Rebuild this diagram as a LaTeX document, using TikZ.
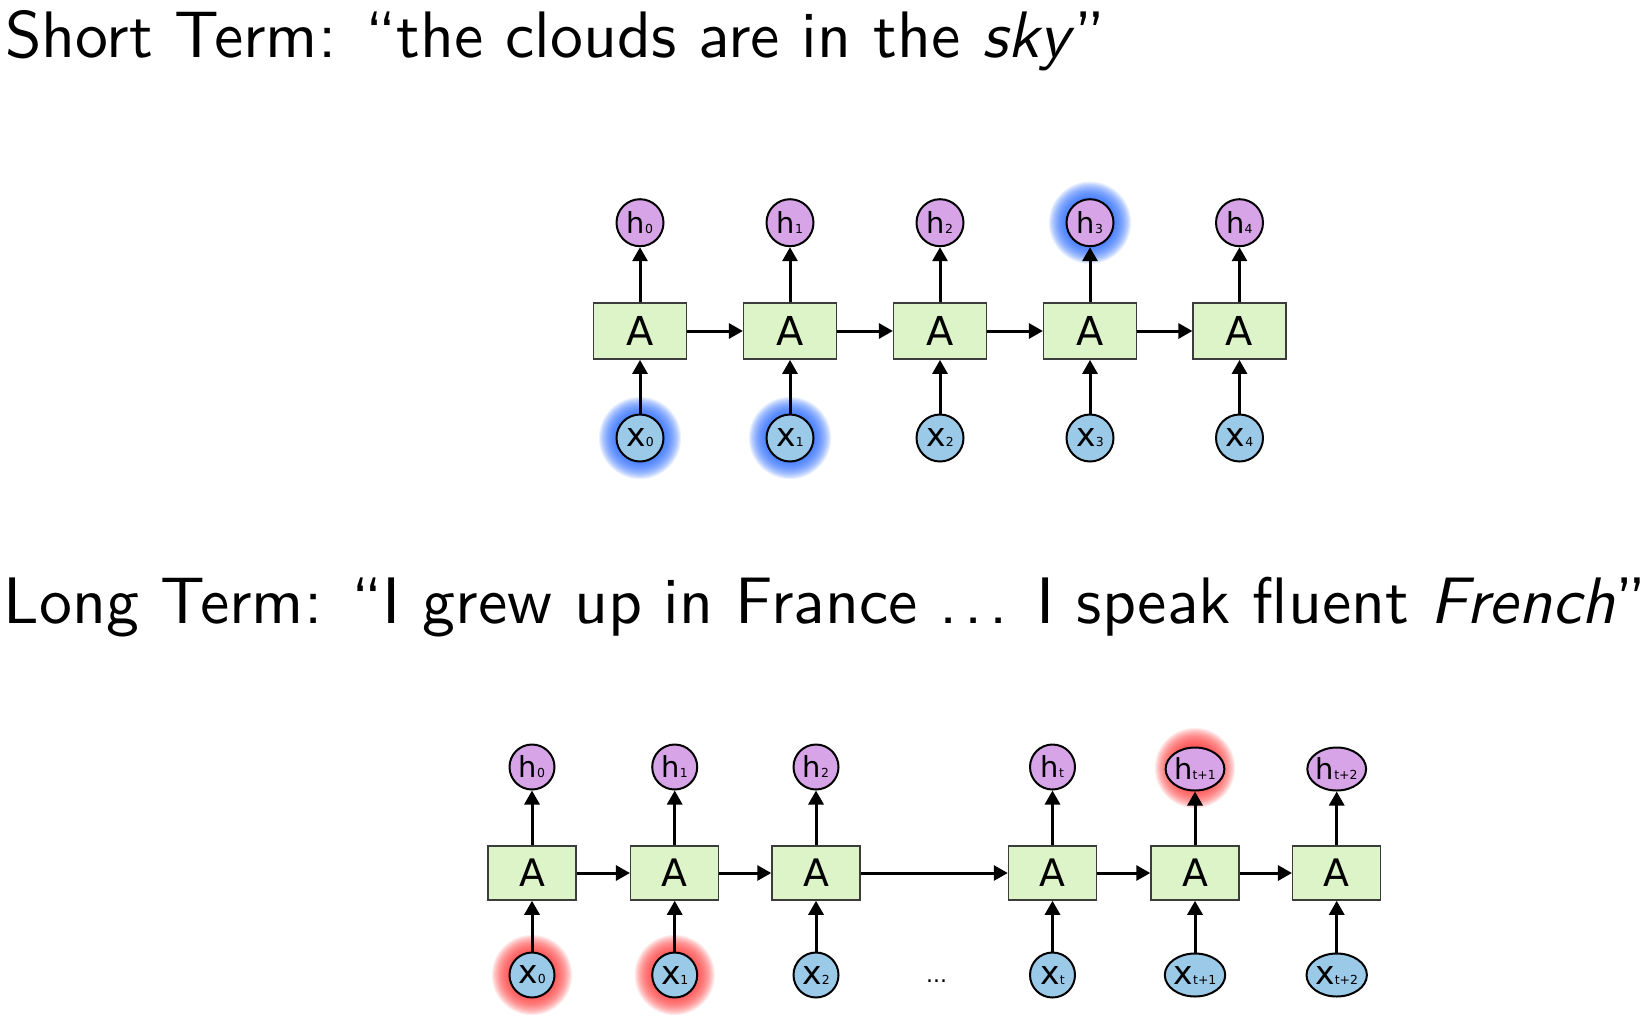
\documentclass[tikz,border=0pt]{standalone}
\usepackage{fontspec}
\newfontfamily\diagfont{DejaVu Sans}
\newfontfamily\headfont{lmsans10-regular.otf}[ItalicFont=lmsans10-oblique.otf,Ligatures=TeX]
\usetikzlibrary{arrows.meta,shapes.geometric}

\definecolor{cellfill}{RGB}{221,244,200}
\definecolor{cellborder}{RGB}{60,60,60}
\definecolor{hfill}{RGB}{216,164,232}
\definecolor{xfill}{RGB}{155,201,232}
\definecolor{glowblue}{RGB}{40,105,255}
\definecolor{glowred}{RGB}{255,60,60}

% h and x labels with a small subscript on the same baseline
\newcommand\hvar[1]{{\fontsize{29}{29}\selectfont h}{\fontsize{12.5}{12.5}\selectfont #1}}
\newcommand\xvar[1]{{\fontsize{33}{33}\selectfont x}{\fontsize{12.5}{12.5}\selectfont #1}}
% slightly spaced dots
\newcommand\spdots{.\kern0.1em.\kern0.1em.}

% soft halo behind a circle
\newcommand\halo[3]{%
  \foreach \k in {1,...,16}{\fill[#3, opacity=0.10] #1 circle[radius=#2+\k*1.1];}}

\begin{document}
\begin{tikzpicture}[x=1bp,y=-1bp,
  cell/.style={draw=cellborder, line width=1.5bp, fill=cellfill, inner sep=0,
    minimum width=92.7bp, minimum height=56.3bp, font=\diagfont\fontsize{40}{40}\selectfont},
  cellb/.style={cell, minimum width=88bp, minimum height=54bp, font=\diagfont\fontsize{38}{38}\selectfont},
  hnode/.style={circle, draw=black, line width=2bp, fill=hfill, inner sep=0,
    minimum size=47bp, font=\diagfont},
  xnode/.style={hnode, fill=xfill},
  hnodeb/.style={hnode, minimum size=45bp},
  xnodeb/.style={xnode, minimum size=45bp},
  hwide/.style={ellipse, draw=black, line width=2bp, fill=hfill, inner sep=0,
    minimum width=53bp, minimum height=43bp, font=\diagfont},
  xwide/.style={hwide, fill=xfill},
  flow/.style={line width=3bp, -{Triangle[length=14bp,width=15bp]}},
  title/.style={anchor=base west, inner sep=0, font=\headfont\fontsize{66}{70}\selectfont}
]
\useasboundingbox (0,0) rectangle (1646,1018);

% ---------- headings ----------
\node[title] (shortterm) at (5,57.5) {Short Term: “the clouds are in the \textit{sky}”};
\node[title] (longterm) at (3.3,623) {Long Term: “I grew up in France \spdots{} I speak fluent \textit{French}”};

% ---------- short-range chain ----------
\halo{(640,438)}{23.5}{glowblue}
\halo{(790,438)}{23.5}{glowblue}
\halo{(1090,222.7)}{23.5}{glowblue}

\foreach \i/\px in {0/640,1/790,2/940,3/1090,4/1239.5}{
  \node[cell] (a\i) at (\px,331) {A};
  \node[hnode] (h\i) at (\px,222.7) {\hvar{\i}};
  \node[xnode] (x\i) at (\px,438) {\xvar{\i}};
  \draw[flow] (a\i) -- (h\i);
  \draw[flow] (x\i) -- (a\i);
}
\foreach \i/\j in {0/1,1/2,2/3,3/4}{\draw[flow] (a\i) -- (a\j);}

% ---------- long-range chain ----------
\halo{(532,975)}{22.5}{glowred}
\halo{(674.7,975)}{22.5}{glowred}
\halo{(1195,768)}{22.5}{glowred}

\foreach \i/\px in {0/532,1/674.7,2/816}{
  \node[cellb] (b\i) at (\px,873) {A};
  \node[hnodeb] (g\i) at (\px,767) {\hvar{\i}};
  \node[xnodeb] (y\i) at (\px,975) {\xvar{\i}};
  \draw[flow] (b\i) -- (g\i);
  \draw[flow] (y\i) -- (b\i);
}
\node[cellb] (bt) at (1052.5,873) {A};
\node[hnodeb] (gt) at (1052.5,767) {\hvar{t}};
\node[xnodeb] (yt) at (1052.5,975) {\xvar{t}};
\node[cellb] (bt1) at (1195,873) {A};
\node[hwide] (gt1) at (1195,769) {\hvar{t+1}};
\node[xwide] (yt1) at (1195,975) {\xvar{t+1}};
\node[cellb] (bt2) at (1336.7,873) {A};
\node[hwide] (gt2) at (1336.7,769) {\hvar{t+2}};
\node[xwide] (yt2) at (1336.7,975) {\xvar{t+2}};
\foreach \n in {t,t1,t2}{
  \draw[flow] (b\n) -- (g\n);
  \draw[flow] (y\n) -- (b\n);
}
\draw[flow] (b0) -- (b1);
\draw[flow] (b1) -- (b2);
\draw[flow] (b2) -- (bt);
\draw[flow] (bt) -- (bt1);
\draw[flow] (bt1) -- (bt2);

\node[inner sep=0, font=\diagfont\fontsize{22}{22}\selectfont] (gap) at (936.5,981) {...};
\end{tikzpicture}
\end{document}
